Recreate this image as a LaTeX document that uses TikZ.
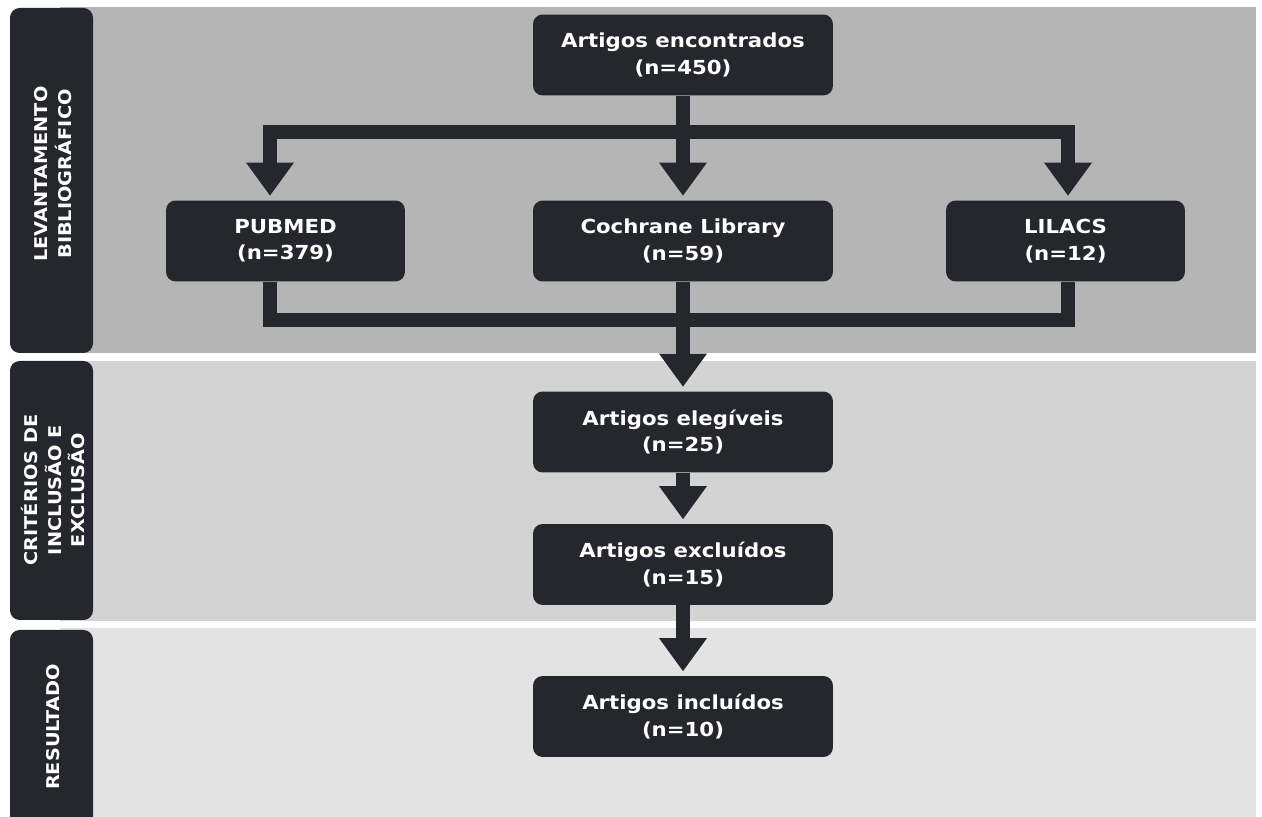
\documentclass[tikz,border=0pt]{standalone}
\usepackage{fontspec}
\setmainfont{DejaVu Sans}[FakeStretch=1.1]
\usetikzlibrary{arrows.meta}
\definecolor{dark}{HTML}{26272E}
\definecolor{bandA}{HTML}{B5B5B5}
\definecolor{bandB}{HTML}{D3D3D3}
\definecolor{bandC}{HTML}{E3E3E3}
\tikzset{
  box/.style={fill=dark, rounded corners=5.5pt, text=white, align=center,
    font=\fontsize{11}{15}\selectfont\bfseries, inner sep=0pt},
  bigbox/.style={box, minimum width=6cm, minimum height=1.62cm},
  smallbox/.style={box, minimum width=4.78cm, minimum height=1.62cm},
  lab/.style={fill=dark, rounded corners=5.5pt},
  labtext/.style={text=white, align=center, rotate=90,
    font=\fontsize{10}{13.6}\selectfont\bfseries},
  bar/.style={draw=dark, line width=8.5pt, line join=miter},
  arr/.style={bar, -{Triangle[width=0.96cm,length=0.66cm,line width=0pt]}, shorten >=2.6pt}
}
\begin{document}
\begin{tikzpicture}[x=0.02cm,y=-0.02cm]
\useasboundingbox (0,0) rectangle (1262,817);
\clip (0,0) rectangle (1262,817);
% bands
\fill[bandA] (60,7) rectangle (1256,353);
\fill[bandB] (60,361) rectangle (1256,621);
\fill[bandC] (60,628) rectangle (1256,840);
\fill[lab] (10,8) rectangle (93,353);
\fill[lab] (10,361) rectangle (93,620);
\fill[lab] (10,630) rectangle (93,840);
\node[labtext] (l1) at (53,174) {LEVANTAMENTO\\BIBLIOGRÁFICO};
\node[labtext] (l2) at (53,490) {CRITÉRIOS DE\\INCLUSÃO E\\EXCLUSÃO};
\node[labtext] (l3) at (53,727) {RESULTADO};
% boxes
\node[bigbox] (enc) at (683,55) {Artigos encontrados\\(n=450)};
\node[smallbox] (pub) at (285.5,241) {PUBMED\\(n=379)};
\node[bigbox] (coch) at (683,241) {Cochrane Library\\(n=59)};
\node[smallbox] (lil) at (1065.5,241) {LILACS\\(n=12)};
\node[bigbox] (eleg) at (683,432) {Artigos elegíveis\\(n=25)};
\node[bigbox] (excl) at (683,564.5) {Artigos excluídos\\(n=15)};
\node[bigbox] (incl) at (683,716.5) {Artigos incluídos\\(n=10)};
% connectors
\coordinate (hl) at (270,132);
\coordinate (hr) at (1068,132);
\coordinate (bl) at (270,320);
\coordinate (br) at (1068,320);
\draw[arr] (enc.south) -- (coch.north);
\draw[arr] (enc.south |- hl) -| (pub.north -| hl);
\draw[arr] (enc.south |- hr) -| (lil.north -| hr);
\draw[bar] (pub.south -| bl) |- (br) -- (lil.south -| br);
\draw[arr] (coch.south) -- (eleg.north);
\draw[arr] (eleg.south) -- (excl.north);
\draw[arr] (excl.south) -- (incl.north);
\end{tikzpicture}
\end{document}
